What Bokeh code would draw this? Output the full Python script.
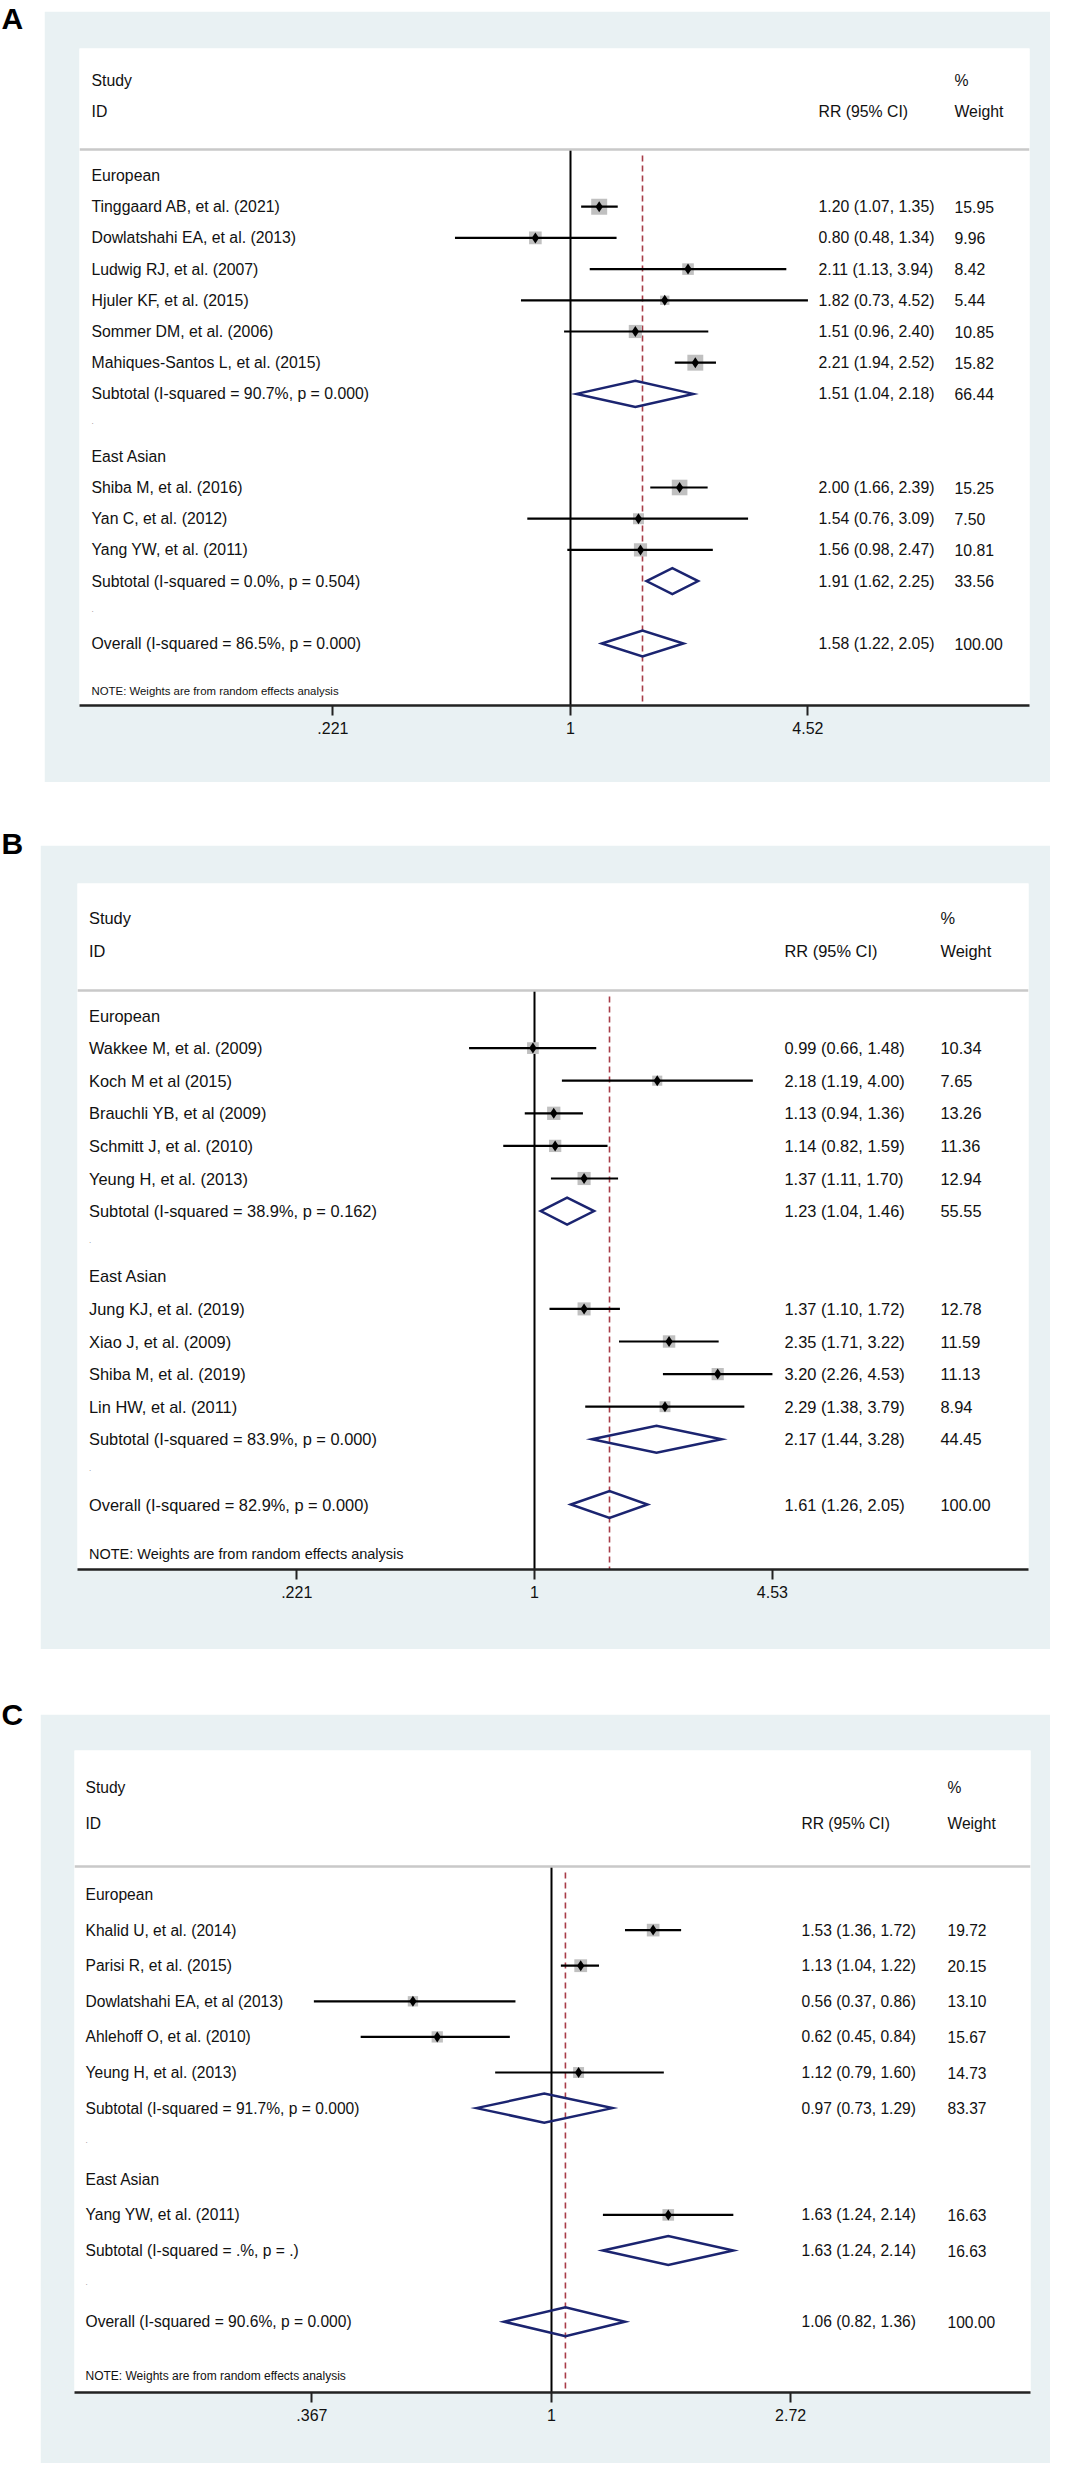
import math
from bokeh.plotting import figure
from bokeh.layouts import column, row
from bokeh.models import Range1d, FixedTicker, Span, Spacer
from bokeh.embed import file_html
from bokeh.resources import INLINE
from bokeh.core.properties import value

FONT = "Liberation Sans"
GRAY_BG = "#e9f1f3"
BOX = "#c0c0c0"
NAVY = "#1b2470"
MAROON = "#a83c48"
TXT = "#111111"

# ---------------- Panel A data ----------------
a_studies = ["Tinggaard AB, et al.  (2021)", "Dowlatshahi EA, et al. (2013)", "Ludwig RJ, et al. (2007)",
             "Hjuler KF, et al. (2015)", "Sommer DM, et al.  (2006)", "Mahiques-Santos L, et al.  (2015)",
             "Shiba M, et al. (2016)", "Yan C, et al. (2012)", "Yang YW, et al.  (2011)"]
a_group = ["European"] * 6 + ["East Asian"] * 3
a_rr = [1.20, 0.80, 2.11, 1.82, 1.51, 2.21, 2.00, 1.54, 1.56]
a_lo = [1.07, 0.48, 1.13, 0.73, 0.96, 1.94, 1.66, 0.76, 0.98]
a_hi = [1.35, 1.34, 3.94, 4.52, 2.40, 2.52, 2.39, 3.09, 2.47]
a_w = [15.95, 9.96, 8.42, 5.44, 10.85, 15.82, 15.25, 7.50, 10.81]
a_sub_labels = ["Subtotal  (I-squared = 90.7%, p = 0.000)", "Subtotal  (I-squared = 0.0%, p = 0.504)"]
a_sub_rr = [1.51, 1.91]
a_sub_lo = [1.04, 1.62]
a_sub_hi = [2.18, 2.25]
a_sub_w = [66.44, 33.56]
a_ov_label = "Overall  (I-squared = 86.5%, p = 0.000)"
a_ov = [1.58, 1.22, 2.05, 100.00]
a_ticks = [0.221, 1, 4.52]
a_tick_labels = [".221", "1", "4.52"]

# ---------------- Panel B data ----------------
b_studies = ["Wakkee M, et al. (2009)", "Koch M et al (2015)", "Brauchli YB, et al (2009)",
             "Schmitt J, et al. (2010)", "Yeung H, et al. (2013)", "Jung KJ, et al.  (2019)",
             "Xiao J, et al.  (2009)", "Shiba M, et al. (2019)", "Lin HW, et al. (2011)"]
b_group = ["European"] * 5 + ["East Asian"] * 4
b_rr = [0.99, 2.18, 1.13, 1.14, 1.37, 1.37, 2.35, 3.20, 2.29]
b_lo = [0.66, 1.19, 0.94, 0.82, 1.11, 1.10, 1.71, 2.26, 1.38]
b_hi = [1.48, 4.00, 1.36, 1.59, 1.70, 1.72, 3.22, 4.53, 3.79]
b_w = [10.34, 7.65, 13.26, 11.36, 12.94, 12.78, 11.59, 11.13, 8.94]
b_sub_labels = ["Subtotal  (I-squared = 38.9%, p = 0.162)", "Subtotal  (I-squared = 83.9%, p = 0.000)"]
b_sub_rr = [1.23, 2.17]
b_sub_lo = [1.04, 1.44]
b_sub_hi = [1.46, 3.28]
b_sub_w = [55.55, 44.45]
b_ov_label = "Overall  (I-squared = 82.9%, p = 0.000)"
b_ov = [1.61, 1.26, 2.05, 100.00]
b_ticks = [0.221, 1, 4.53]
b_tick_labels = [".221", "1", "4.53"]

# ---------------- Panel C data ----------------
c_studies = ["Khalid U, et al. (2014)", "Parisi R, et al.  (2015)", "Dowlatshahi EA, et al (2013)",
             "Ahlehoff O, et al. (2010)", "Yeung H, et al. (2013)", "Yang YW, et al. (2011)"]
c_group = ["European"] * 5 + ["East Asian"]
c_rr = [1.53, 1.13, 0.56, 0.62, 1.12, 1.63]
c_lo = [1.36, 1.04, 0.37, 0.45, 0.79, 1.24]
c_hi = [1.72, 1.22, 0.86, 0.84, 1.60, 2.14]
c_w = [19.72, 20.15, 13.10, 15.67, 14.73, 16.63]
c_sub_labels = ["Subtotal  (I-squared = 91.7%, p = 0.000)", "Subtotal  (I-squared = .%, p = .)"]
c_sub_rr = [0.97, 1.63]
c_sub_lo = [0.73, 1.24]
c_sub_hi = [1.29, 2.14]
c_sub_w = [83.37, 16.63]
c_ov_label = "Overall  (I-squared = 90.6%, p = 0.000)"
c_ov = [1.06, 0.82, 1.36, 100.00]
c_ticks = [0.367, 1, 2.72]
c_tick_labels = [".367", "1", "2.72"]

PAGE_RIGHT = 1058  # right edge available (page px)

# Layout of each panel in page pixels
LA = dict(letter="A", row_top=8, letter_y=9, gx0=52, gy0=19, gy1=790, fx0=87, fx1=1037, fy0=56, fy1=713,
          null_x=578, ppu=157.4, row0=183, dy=31.2, study_y=88, id_y=119, sep_y=157, note_y=698,
          text_x=99, rr_x=826, w_x=962, font=15.8, note_font=11.4, box_k=4.0, dh=13, tick_font=16)
LB = dict(letter="B", row_top=830, letter_y=837, gx0=48, gy0=853, gy1=1657, fx0=85, fx1=1036, fy0=891, fy1=1577,
          null_x=542, ppu=157.5, row0=1023, dy=32.6, study_y=925, id_y=958, sep_y=998, note_y=1561,
          text_x=96.5, rr_x=792, w_x=948, font=16.4, note_font=14.5, box_k=3.65, dh=13.5, tick_font=16)
LC = dict(letter="C", row_top=1700, letter_y=1708, gx0=48, gy0=1722, gy1=2471, fx0=82, fx1=1038, fy0=1758, fy1=2400,
          null_x=559, ppu=239.0, row0=1902, dy=35.6, study_y=1795, id_y=1831, sep_y=1874, note_y=2383,
          text_x=93, rr_x=809, w_x=955, font=15.6, note_font=12, box_k=2.85, dh=14.5, tick_font=16)


def fmt_ci(r, l, h):
    return f"{r:.2f} ({l:.2f}, {h:.2f})"


def build_panel(L, studies, group, rr, lo, hi, w, sub_labels, sub_rr, sub_lo, sub_hi, sub_w,
                ov_label, ov, ticks, tick_labels):
    width = PAGE_RIGHT - L["gx0"]
    height = L["gy1"] - L["gy0"]
    fx0, fx1, fy0, fy1 = L["fx0"], L["fx1"], L["fy0"], L["fy1"]
    xs_ = math.exp((fx0 - L["null_x"]) / L["ppu"])
    xe_ = math.exp((fx1 - L["null_x"]) / L["ppu"])

    def yv(px):
        return (px - L["row0"]) / L["dy"]

    y_top, y_bot = yv(fy0), yv(fy1)

    p = figure(width=width, height=height, x_axis_type="log",
               x_range=Range1d(xs_, xe_), y_range=Range1d(y_bot, y_top),
               toolbar_location=None, output_backend="svg", y_axis_location=None,
               min_border_left=fx0 - L["gx0"], min_border_right=PAGE_RIGHT - fx1,
               min_border_top=fy0 - L["gy0"], min_border_bottom=L["gy1"] - fy1)
    p.background_fill_color = "white"
    p.border_fill_color = GRAY_BG
    p.outline_line_color = None
    p.grid.visible = False

    ax = p.xaxis[0]
    ax.ticker = FixedTicker(ticks=ticks)
    ax.major_label_overrides = {t: s for t, s in zip(ticks, tick_labels)}
    ax.axis_line_width = 2.5
    ax.axis_line_color = "#222222"
    ax.major_tick_line_width = 2
    ax.major_tick_line_color = "#222222"
    ax.major_tick_out = 10
    ax.major_tick_in = 0
    ax.minor_tick_line_color = None
    ax.major_label_text_font = FONT
    ax.major_label_text_font_size = f"{L['tick_font']}px"
    ax.major_label_text_color = TXT
    ax.major_label_standoff = 6

    # row assignment
    groups = []
    for g in group:
        if g not in groups:
            groups.append(g)
    r = 0
    left_y, left_t = [], []
    dot_y = []
    st_y = [0] * len(studies)
    sub_y = []
    for g in groups:
        left_y.append(r); left_t.append(g); r += 1
        for i, gg in enumerate(group):
            if gg == g:
                st_y[i] = r
                left_y.append(r); left_t.append(studies[i])
                r += 1
        sub_y.append(r)
        left_y.append(r); left_t.append(sub_labels[len(sub_y) - 1])
        r += 1
        dot_y.append(r); r += 1
    ov_y = r
    left_y.append(ov_y); left_t.append(ov_label)

    # header separator
    sep = yv(L["sep_y"])
    p.add_layout(Span(location=sep, dimension="width", line_color="#c9c9c9", line_width=2.5))

    # null line and overall line
    p.segment(x0=[1], y0=[sep], x1=[1], y1=[y_bot], line_color="black", line_width=2)
    p.segment(x0=[ov[0]], y0=[sep + 6 / L["dy"]], x1=[ov[0]], y1=[y_bot], line_color=MAROON,
              line_width=1.6, line_dash="6 4")

    # study boxes, CIs, point markers
    sizes = [L["box_k"] * math.sqrt(v) for v in w]
    p.scatter(x=rr, y=st_y, marker="square", size=sizes, fill_color=BOX, line_color=None)
    p.segment(x0=lo, y0=st_y, x1=hi, y1=st_y, line_color="black", line_width=2.2)
    p.scatter(x=rr, y=st_y, marker="diamond", size=11, fill_color="black", line_color=None)

    # pooled diamonds
    h = L["dh"] / L["dy"]
    d_r = list(sub_rr) + [ov[0]]
    d_l = list(sub_lo) + [ov[1]]
    d_h = list(sub_hi) + [ov[2]]
    d_y = list(sub_y) + [ov_y]
    pxs = [[l, m, u, m] for l, m, u in zip(d_l, d_r, d_h)]
    pys = [[yy, yy - h, yy, yy + h] for yy in d_y]
    p.patches(xs=pxs, ys=pys, fill_alpha=0, line_color=NAVY, line_width=2.5, line_join="miter")

    fs = value(f"{L['font']}px")
    common = dict(text_font=value(FONT), text_font_size=fs, text_baseline="middle",
                  text_align="left", text_color=TXT)
    off_t = L["text_x"] - fx0
    off_rr = L["rr_x"] - fx0
    off_w = L["w_x"] - fx0

    # header
    p.text(x=[xs_, xs_], y=[yv(L["study_y"]), yv(L["id_y"])], text=["Study", "ID"], x_offset=off_t, **common)
    p.text(x=[xs_], y=[yv(L["id_y"])], text=["RR (95% CI)"], x_offset=off_rr, **common)
    p.text(x=[xs_, xs_], y=[yv(L["study_y"]), yv(L["id_y"])], text=["%", "Weight"], x_offset=off_w, **common)

    # left labels
    p.text(x=[xs_] * len(left_y), y=left_y, text=left_t, x_offset=off_t, **common)
    p.text(x=[xs_] * len(dot_y), y=[d - 0.1 for d in dot_y], text=["."] * len(dot_y), x_offset=off_t,
           text_font=value(FONT), text_font_size=value("8px"), text_baseline="middle", text_color="#888888")

    # RR and weight columns
    all_y = st_y + list(sub_y) + [ov_y]
    all_ci = [fmt_ci(a, b, c) for a, b, c in zip(rr, lo, hi)] + \
             [fmt_ci(a, b, c) for a, b, c in zip(sub_rr, sub_lo, sub_hi)] + [fmt_ci(ov[0], ov[1], ov[2])]
    all_w = [f"{v:.2f}" for v in list(w) + list(sub_w) + [ov[3]]]
    p.text(x=[xs_] * len(all_y), y=all_y, text=all_ci, x_offset=off_rr, **common)
    p.text(x=[xs_] * len(all_y), y=all_y, text=all_w, x_offset=off_w, **common)

    # note
    p.text(x=[xs_], y=[yv(L["note_y"])], text=["NOTE: Weights are from random effects analysis"],
           x_offset=off_t, text_font=value(FONT), text_font_size=value(f"{L['note_font']}px"),
           text_baseline="middle", text_align="left", text_color=TXT)

    # letter figure on the left
    lw = L["gx0"] - 8
    lh = L["gy1"] - L["row_top"]
    lf = figure(width=lw, height=lh, x_range=Range1d(0, lw), y_range=Range1d(lh, 0),
                toolbar_location=None, output_backend="svg", min_border=0,
                x_axis_location=None, y_axis_location=None)
    lf.outline_line_color = None
    lf.background_fill_color = "white"
    lf.border_fill_color = "white"
    lf.grid.visible = False
    ly = max(1, L["letter_y"] - L["row_top"] - 3)
    lf.text(x=[1], y=[ly], text=[L["letter"]], text_font=value(FONT),
            text_font_size=value("30px"), text_font_style="bold", text_baseline="top", text_color="black")

    top_sp = L["gy0"] - L["row_top"]
    right = column(Spacer(width=width, height=top_sp), p) if top_sp > 0 else p
    return row(lf, right)


pa = build_panel(LA, a_studies, a_group, a_rr, a_lo, a_hi, a_w, a_sub_labels, a_sub_rr, a_sub_lo, a_sub_hi,
                 a_sub_w, a_ov_label, a_ov, a_ticks, a_tick_labels)
pb = build_panel(LB, b_studies, b_group, b_rr, b_lo, b_hi, b_w, b_sub_labels, b_sub_rr, b_sub_lo, b_sub_hi,
                 b_sub_w, b_ov_label, b_ov, b_ticks, b_tick_labels)
pc = build_panel(LC, c_studies, c_group, c_rr, c_lo, c_hi, c_w, c_sub_labels, c_sub_rr, c_sub_lo, c_sub_hi,
                 c_sub_w, c_ov_label, c_ov, c_ticks, c_tick_labels)

layout = column(pa, Spacer(width=100, height=LB["row_top"] - LA["gy1"]),
                pb, Spacer(width=100, height=LC["row_top"] - LB["gy1"]), pc)

open("out.html", "w").write(file_html(layout, INLINE))
